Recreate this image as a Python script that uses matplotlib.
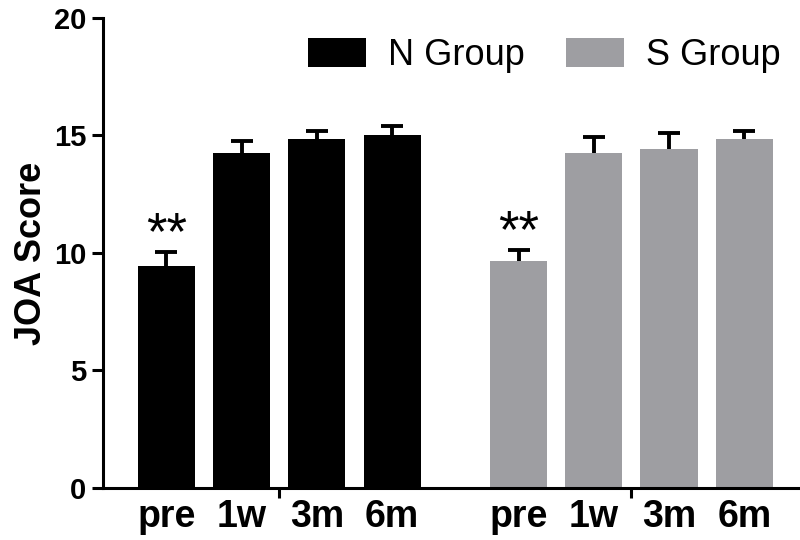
import matplotlib
matplotlib.use("Agg")
import matplotlib.pyplot as plt
import numpy as np

timepoints = ['pre', '1w', '3m', '6m']
groups = ['N Group', 'S Group']
n_means = [9.45, 14.26, 14.85, 15.02]
n_err = [0.58, 0.50, 0.35, 0.38]
s_means = [9.66, 14.26, 14.43, 14.85]
s_err = [0.45, 0.66, 0.66, 0.34]
signif = ['**', '', '', '']
colors = ['#000000', '#9e9ea2']

plt.rcParams['font.family'] = ['Liberation Sans', 'DejaVu Sans']

fig = plt.figure(figsize=(8, 5.4), dpi=100)
ax = fig.add_axes([0.129, 0.0963, 0.871, 0.8704])

gap = 1.68
x_n = np.arange(len(timepoints), dtype=float)
x_s = x_n + (len(timepoints) - 1) + gap
width = 0.76

for xs, means, errs, col, lab in [(x_n, n_means, n_err, colors[0], groups[0]),
                                  (x_s, s_means, s_err, colors[1], groups[1])]:
    ax.bar(xs, means, width=width, color=col, label=lab, zorder=2)
    ax.errorbar(xs, means, yerr=errs, fmt='none',
                ecolor='black', elinewidth=2.8, capsize=8, capthick=2.8, zorder=1)
    for x, m, e, s in zip(xs, means, errs, signif):
        if s:
            ax.text(x, m + e + 0.15, s, ha='center', va='baseline',
                    fontsize=38, color='black')

ax.set_xlim(-0.84, 8.42)
ax.set_ylim(0, 20)
ax.set_yticks([0, 5, 10, 15, 20])
ax.tick_params(axis='y', labelsize=21, width=2.2, length=8, pad=4)
for t in ax.get_yticklabels():
    t.set_fontweight('bold')

ax.set_xticks([x_n.mean(), x_s.mean()])
ax.set_xticklabels(['', ''])
ax.tick_params(axis='x', which='major', width=2.2, length=7)
ax.set_xticks(np.concatenate([x_n, x_s]), minor=True)
ax.set_xticklabels(timepoints * 2, minor=True, fontsize=27, fontweight='bold')
ax.tick_params(axis='x', which='minor', length=0, pad=8)

ax.set_ylabel('JOA Score', fontsize=26, fontweight='bold', labelpad=4)

for sp in ['top', 'right']:
    ax.spines[sp].set_visible(False)
for sp in ['left', 'bottom']:
    ax.spines[sp].set_linewidth(2.2)

leg = ax.legend(loc='upper right', bbox_to_anchor=(1.0, 1.0), ncol=2, frameon=False,
                fontsize=26, handlelength=1.6, handleheight=0.85, columnspacing=1.15,
                handletextpad=0.6, borderaxespad=0.15)

fig.savefig('out.png', dpi=100)
